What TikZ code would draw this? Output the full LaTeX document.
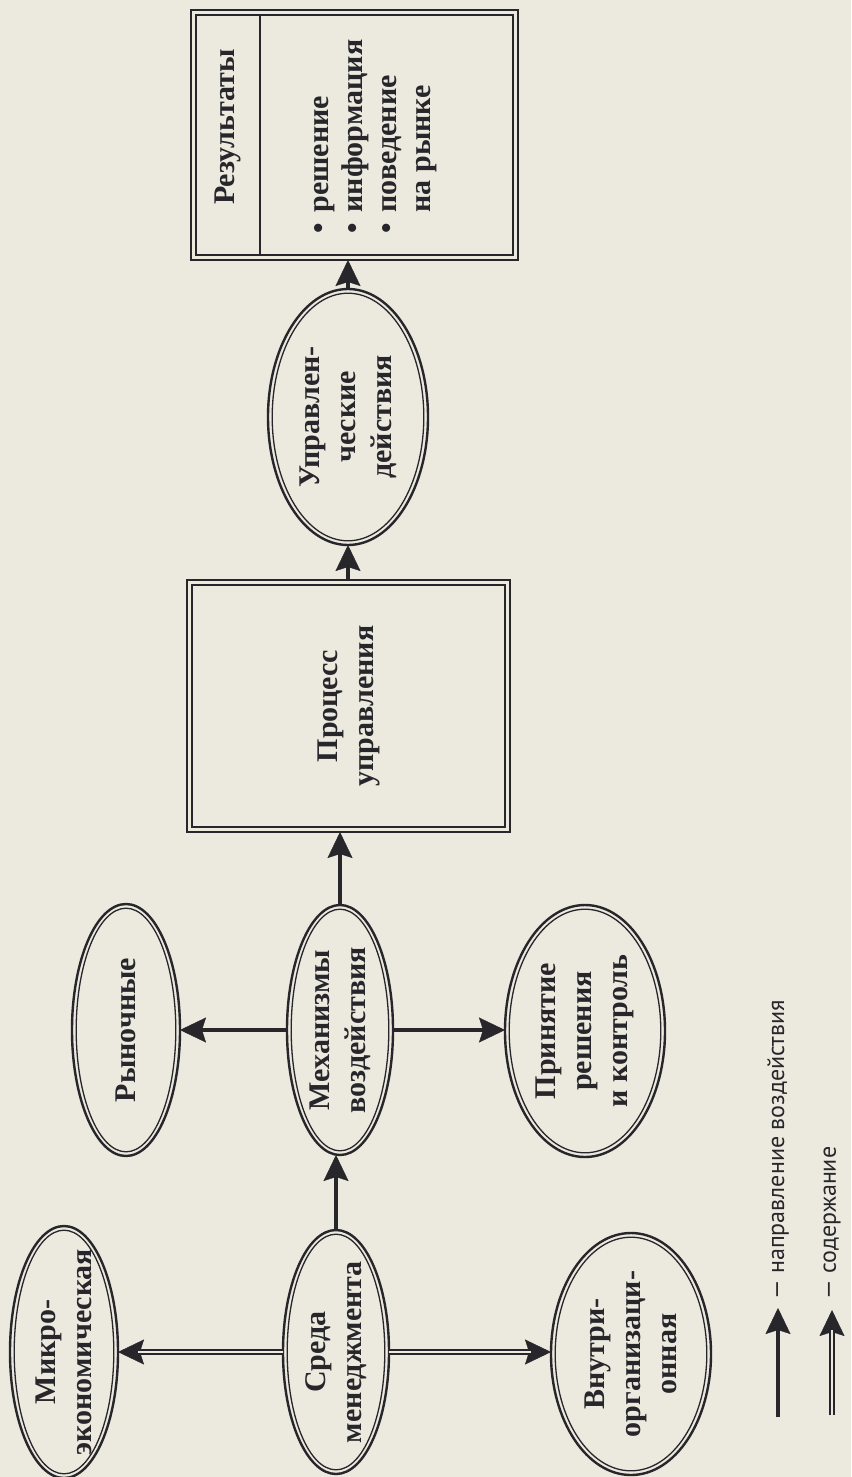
\documentclass[tikz,border=0pt]{standalone}
\usepackage{fontspec}
\setmainfont{Liberation Serif}
\newfontfamily\legfont{PT Sans}
\usetikzlibrary{arrows.meta,shapes.geometric}
\definecolor{paper}{HTML}{ECE9DF}
\definecolor{ink}{HTML}{26262B}

\tikzset{
  ovalout/.style={ellipse, draw=ink, line width=2.4pt, inner sep=0pt, outer sep=0pt},
  ovalin/.style={draw=ink, line width=1.3pt},
  boxout/.style={rectangle, draw=ink, line width=2pt, inner sep=0pt, outer sep=0pt},
  boxin/.style={draw=ink, line width=2.6pt},
  lbl/.style={rotate=90, align=center, inner sep=0pt, text=ink,
    font=\bfseries\fontsize{30}{36}\selectfont},
  leg/.style={rotate=90, inner sep=0pt, text=ink, font=\legfont\fontsize{24}{28}\selectfont},
  act/.style={draw=ink, line width=4.5pt,
    -{Stealth[length=26pt,width=25pt,inset=4pt,line width=0.4pt]}},
  conthead/.style={draw=ink, line width=0.4pt,
    -{Stealth[length=26pt,width=25pt,inset=4pt]}},
  contshaft/.style={draw=ink, line width=1.7pt, double=paper, double distance=2.6pt,
    shorten >=20pt},
}

% ellipse with a double outline and a rotated label
% #1 name, #2 x, #3 y, #4 x radius, #5 y radius, #6 text
\newcommand\dualoval[6]{%
  \node[ovalout, minimum width=#4*2pt, minimum height=#5*2pt] (#1) at (#2,#3) {};
  \draw[ovalin] (#1.center) ellipse [x radius=#4pt-4.2pt, y radius=#5pt-4.2pt];
  \node[lbl] (#1-t) at (#1.center) {#6};
}
% list bullet followed by a wide gap
\newcommand\resbullet{\textbullet\hspace{11pt}}

\begin{document}
\begin{tikzpicture}[x=1pt,y=-1pt]
\fill[paper] (0,0) rectangle (851,1477);
\useasboundingbox (0,0) rectangle (851,1477);

% upper row
\dualoval{micro}{64}{1352}{54}{126}{Микро-\\экономическая}
\dualoval{rynok}{126}{1030}{54}{126}{Рыночные}

% main chain
\dualoval{sreda}{336}{1352}{53}{122}{Среда\\менеджмента}
\dualoval{mech}{340}{1030}{53}{125}{Механизмы\\воздействия}

\node[boxout, minimum width=323pt, minimum height=252pt] (proc) at (348.5,706) {};
\draw[boxin] ([shift={(5pt,5pt)}]proc.south west) rectangle ([shift={(-5pt,-5pt)}]proc.north east);
\node[lbl] (proc-t) at (proc.center) {Процесс\\управления};

\dualoval{upr}{348}{417}{80}{128}{Управлен-\\ческие\\действия}

\node[boxout, minimum width=327pt, minimum height=250pt] (res) at (354.5,135) {};
\draw[boxin] ([shift={(5pt,5pt)}]res.south west) rectangle ([shift={(-5pt,-5pt)}]res.north east);
\draw[draw=ink, line width=1.2pt] ([shift={(69pt,-5pt)}]res.north west) -- ([shift={(69pt,5pt)}]res.south west);
\node[lbl] (res-t) at (228,127) {Результаты};
\node[lbl, anchor=west, align=left, font=\bfseries\fontsize{30}{34}\selectfont] (res-list) at (376,234)
  {\resbullet решение\\\resbullet информация\\\resbullet поведение\\\phantom{\resbullet}на рынке};

% lower row
\dualoval{vnutri}{631}{1354}{80}{121}{Внутри-\\организаци-\\онная}
\dualoval{prin}{585}{1031}{80}{126}{Принятие\\решения\\и~контроль}

% content links (double lines)
\draw[conthead] (sreda.west) -- (sreda.west -| micro.east);
\draw[contshaft] (sreda.west) -- (sreda.west -| micro.east);
\draw[conthead] (sreda.east) -- (sreda.east -| vnutri.west);
\draw[contshaft] (sreda.east) -- (sreda.east -| vnutri.west);

% influence links (solid)
\draw[act] (sreda.north) -- (sreda.north |- mech.south);
\draw[act] (mech.west) -- (mech.west -| rynok.east);
\draw[act] (mech.east) -- (mech.east -| prin.west);
\draw[act] (mech.north) -- (mech.north |- proc.south);
\draw[act] (proc.north -| upr.south) -- (upr.south);
\draw[act] (upr.north) -- (upr.north |- res.south);

% legend
\coordinate (leg1a) at (778,1417);
\coordinate (leg1b) at (778,1308);
\draw[act] (leg1a) -- (leg1b);
\node[leg, anchor=west] (leg1) at (778,1300) {— направление воздействия};
\coordinate (leg2a) at (832,1415);
\coordinate (leg2b) at (832,1310);
\draw[conthead] (leg2a) -- (leg2b);
\draw[contshaft] (leg2a) -- (leg2b);
\node[leg, anchor=west] (leg2) at (832,1300) {— содержание};
\end{tikzpicture}
\end{document}
